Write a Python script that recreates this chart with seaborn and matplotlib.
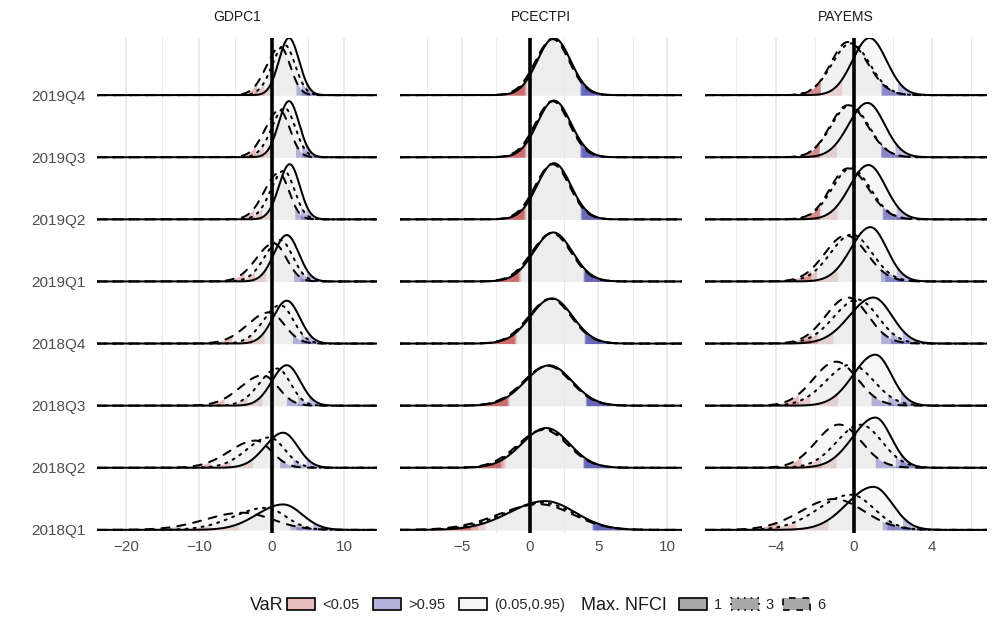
import numpy as np
import pandas as pd
import matplotlib
matplotlib.use("Agg")
import matplotlib.pyplot as plt
from matplotlib.patches import Patch
import seaborn as sns

# quarters, bottom row first
quarters = ["2018Q1", "2018Q2", "2018Q3", "2018Q4", "2019Q1", "2019Q2", "2019Q3", "2019Q4"]
nfci_levels = ["1", "3", "6"]
panels = ["GDPC1", "PCECTPI", "PAYEMS"]

# mode, left spread, right spread of each ridge
# columns = Max. NFCI 1 / 3 / 6
gdp_mode = [[1.6, -0.8, -4.0], [1.6, -0.3, -2.2], [2.1, 0.8, -1.2], [2.1, 1.2, -0.3],
            [2.1, 1.2, 0.3], [2.5, 1.7, 1.0], [2.4, 1.8, 1.1], [2.4, 1.8, 1.2]]
gdp_left = [[3.6, 4.4, 5.1], [2.5, 3.1, 3.6], [2.05, 2.45, 3.1], [1.9, 2.3, 3.0],
            [1.75, 2.1, 2.4], [1.48, 1.8, 2.0], [1.43, 1.75, 1.95], [1.38, 1.7, 1.9]]
gdp_right = [[2.6, 2.75, 4.1], [2.0, 2.1, 2.2], [1.85, 1.8, 2.1], [1.78, 1.8, 2.05],
             [1.65, 1.7, 1.75], [1.38, 1.44, 1.41], [1.38, 1.45, 1.4], [1.38, 1.44, 1.38]]

pce_mode = [[1.1, 0.9, 0.7], [1.2, 1.1, 1.0], [1.4, 1.35, 1.3], [1.6, 1.55, 1.5],
            [1.7, 1.65, 1.6], [1.75, 1.7, 1.65], [1.75, 1.7, 1.65], [1.75, 1.7, 1.65]]
pce_left = [[2.6, 2.8, 3.0], [1.8, 1.85, 1.9], [1.75, 1.78, 1.8], [1.56, 1.58, 1.6],
            [1.43, 1.45, 1.48], [1.23, 1.25, 1.28], [1.21, 1.23, 1.26], [1.21, 1.23, 1.26]]
pce_right = [[2.2, 2.3, 2.4], [1.68, 1.72, 1.75], [1.68, 1.68, 1.68], [1.5, 1.5, 1.5],
             [1.39, 1.39, 1.39], [1.23, 1.23, 1.23], [1.23, 1.21, 1.21], [1.21, 1.21, 1.21]]

pay_mode = [[1.0, -0.15, -1.0], [1.1, 0.35, -0.75], [1.1, -0.15, -0.9], [1.0, 0.2, -0.3],
            [0.85, -0.1, -0.4], [0.75, -0.15, -0.3], [0.7, -0.2, -0.3], [0.8, -0.15, -0.3]]
pay_left = [[1.35, 1.65, 1.7], [1.17, 1.22, 1.17], [1.13, 1.26, 1.17], [1.22, 1.22, 1.13],
            [1.0, 1.09, 1.09], [0.96, 0.96, 0.91], [0.96, 0.96, 0.91], [0.87, 0.96, 0.87]]
pay_right = [[0.96, 1.18, 1.52], [0.81, 1.09, 1.13], [0.82, 1.16, 1.09], [0.94, 1.04, 1.03],
             [0.83, 1.03, 1.07], [0.87, 0.99, 1.04], [0.87, 0.96, 1.0], [0.87, 0.96, 1.0]]

params = {
    "GDPC1": (gdp_mode, gdp_left, gdp_right),
    "PCECTPI": (pce_mode, pce_left, pce_right),
    "PAYEMS": (pay_mode, pay_left, pay_right),
}
xlims = {"GDPC1": (-24.0, 14.5), "PCECTPI": (-9.5, 11.1), "PAYEMS": (-7.6, 6.8)}
major = {"GDPC1": [-20, -10, 0, 10], "PCECTPI": [-5, 0, 5, 10], "PAYEMS": [-4, 0, 4]}
minor = {"GDPC1": [-15, -5, 5], "PCECTPI": [-7.5, -2.5, 2.5, 7.5], "PAYEMS": [-6, -2, 2, 6]}

sns.set_theme(style="whitegrid")
plt.rcParams["font.family"] = ["Liberation Sans", "DejaVu Sans"]
plt.rcParams["lines.dash_capstyle"] = "round"

fig = plt.figure(figsize=(9.97, 6.23), dpi=100)
lefts = [97, 400, 705]
widths = [280, 282, 282]

scale = 0.92
dashes = {"1": "", "3": (1, 3), "6": (4, 4)}

for p, name in enumerate(panels):
    ax = fig.add_axes([lefts[p] / 997, 0.1445, widths[p] / 997, 0.7945])
    lo, hi = xlims[name]
    x = np.linspace(lo, hi, 1200)
    modes, sls, srs = params[name]

    # split-normal density for each ridge
    dens = {}
    for i in range(len(quarters)):
        for j, lev in enumerate(nfci_levels):
            m, sl, sr = modes[i][j], sls[i][j], srs[i][j]
            s = np.where(x < m, sl, sr)
            dens[(i, j)] = 2 / (np.sqrt(2 * np.pi) * (sl + sr)) * np.exp(-(x - m) ** 2 / (2 * s ** 2))
    k = scale / max(d.max() for d in dens.values())

    rows = []
    dx = x[1] - x[0]
    for i, q in enumerate(quarters):
        base = i + 1
        for j, lev in enumerate(nfci_levels):
            d = dens[(i, j)]
            cdf = np.cumsum(d) * dx
            cdf = cdf / cdf[-1]
            q05 = x[np.searchsorted(cdf, 0.05)]
            q95 = x[np.searchsorted(cdf, 0.95)]
            y = base + d * k
            ax.fill_between(x, base, y, where=x <= q05 + dx, color="firebrick", alpha=0.3, lw=0)
            ax.fill_between(x, base, y, where=(x >= q05) & (x <= q95 + dx), color="#e5e5e5", alpha=0.3, lw=0)
            ax.fill_between(x, base, y, where=x >= q95, color="darkblue", alpha=0.26, lw=0)
            rows.append(pd.DataFrame({"x": x, "y": y, "nfci": lev, "quarter": q}))

    df = pd.concat(rows, ignore_index=True)
    sns.lineplot(data=df, x="x", y="y", style="nfci", units="quarter", estimator=None,
                 dashes=dashes, color="black", linewidth=1.45, legend=False, sort=False, ax=ax)

    ax.axvline(0, color="black", lw=2.6, zorder=5)
    ax.set_xlim(lo, hi)
    ax.set_ylim(0.95, 8 + scale)
    ax.set_xticks(major[name])
    ax.set_xticks(minor[name], minor=True)
    ax.set_xticklabels([f"{v}".replace("-", "\u2212") for v in major[name]])
    ax.grid(axis="x", which="major", color="#e6e6e6", lw=1.1)
    ax.grid(axis="x", which="minor", color="#ececec", lw=0.7)
    ax.grid(axis="y", visible=False)
    ax.set_yticks(range(1, len(quarters) + 1))
    if p == 0:
        ax.set_yticklabels(quarters)
    else:
        ax.set_yticklabels([])
    ax.tick_params(axis="both", length=0, labelsize=11, labelcolor="#4d4d4d")
    ax.tick_params(axis="x", pad=5)
    ax.tick_params(axis="y", pad=8)
    ax.set_xlabel("")
    ax.set_ylabel("")
    for sp in ax.spines.values():
        sp.set_visible(False)
    ax.set_facecolor("white")
    fig.text((lefts[p] + widths[p] / 2) / 997, 1 - 17 / 623, name, ha="center", va="center",
             fontsize=10, color="#1a1a1a")

# legend row
ly = 1 - 605 / 623
fig.text(284 / 997, ly, "VaR", ha="right", va="center", fontsize=13, color="#1a1a1a")
var_handles = [Patch(facecolor=(0.91, 0.74, 0.74), edgecolor="black", lw=1.2),
               Patch(facecolor=(0.70, 0.70, 0.86), edgecolor="black", lw=1.2),
               Patch(facecolor=(0.97, 0.97, 0.97), edgecolor="black", lw=1.2)]
fig.legend(var_handles, ["<0.05", ">0.95", "(0.05,0.95)"], ncol=3, frameon=False,
           loc="center left", bbox_to_anchor=(287 / 997, ly), fontsize=10.5,
           handlelength=1.9, handleheight=0.9, handletextpad=0.5, columnspacing=0.95,
           borderpad=0, borderaxespad=0)
fig.text(581 / 997, ly, "Max. NFCI", ha="left", va="center", fontsize=13, color="#1a1a1a")
nfci_handles = [Patch(facecolor="#a9a9a9", edgecolor="black", lw=1.2, linestyle="-"),
                Patch(facecolor="#a9a9a9", edgecolor="black", lw=1.2, linestyle=(0, (1, 3))),
                Patch(facecolor="#a9a9a9", edgecolor="black", lw=1.2, linestyle=(0, (4, 4)))]
fig.legend(nfci_handles, nfci_levels, ncol=3, frameon=False,
           loc="center left", bbox_to_anchor=(679 / 997, ly), fontsize=10.5,
           handlelength=1.9, handleheight=0.9, handletextpad=0.5, columnspacing=0.6,
           borderpad=0, borderaxespad=0)

fig.savefig("out.png", dpi=100, facecolor="white")
